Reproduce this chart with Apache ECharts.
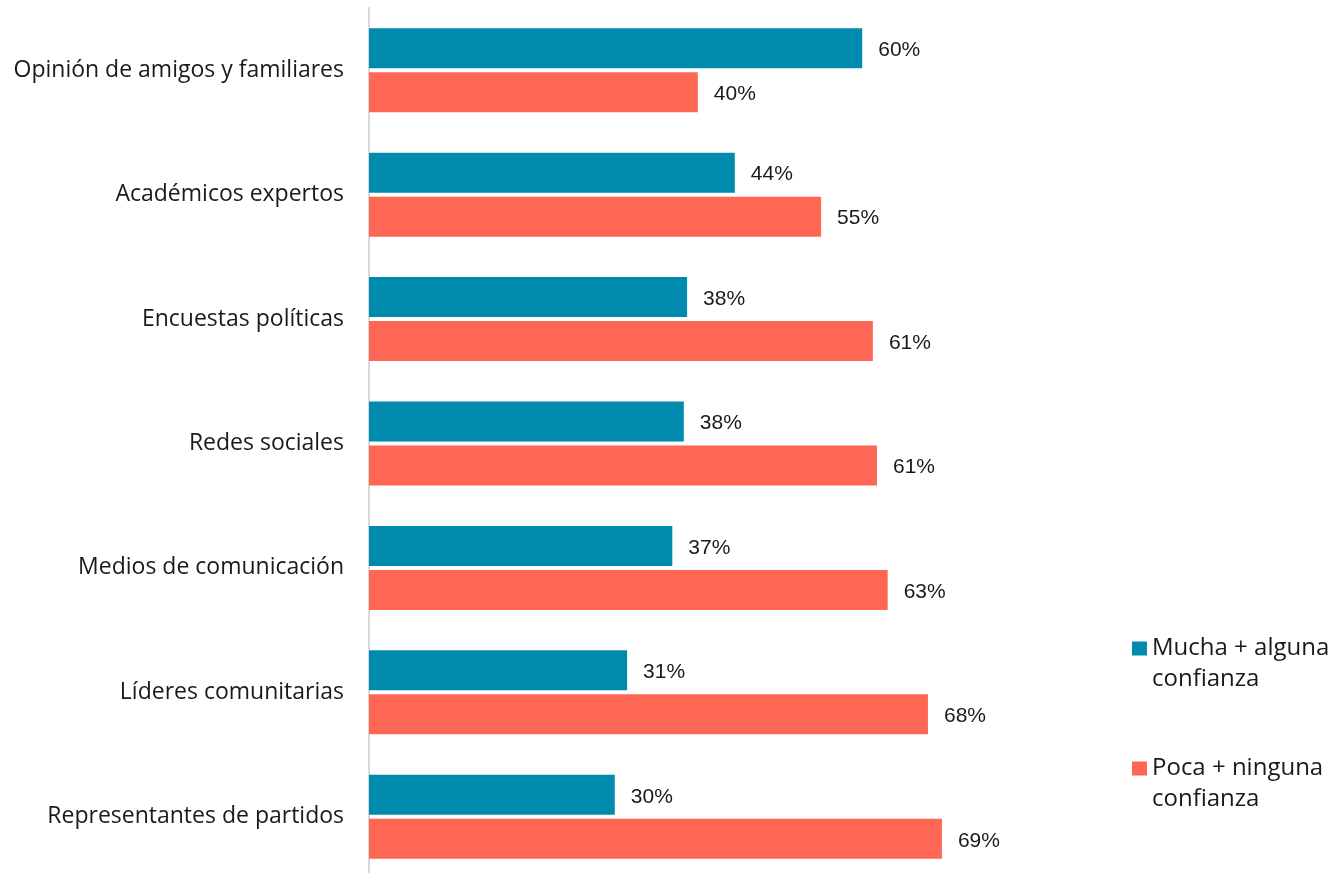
<!DOCTYPE html>
<html><head><meta charset="utf-8">
<script src="https://cdn.jsdelivr.net/npm/echarts@6/dist/echarts.min.js"></script>
<style>html,body{margin:0;padding:0;background:#fff}#c{width:1330px;height:873px}</style>
</head><body><div id="c"></div>
<script>
const categories = ["Opinión de amigos y familiares","Académicos expertos","Encuestas políticas","Redes sociales","Medios de comunicación","Líderes comunitarias","Representantes de partidos"];
const seriesNames = ["Mucha + alguna\nconfianza","Poca + ninguna\nconfianza"];
const muchaValues = [60, 44.5, 38.7, 38.3, 36.9, 31.4, 29.9];
const pocaValues = [40, 55.0, 61.3, 61.8, 63.1, 68.0, 69.7];
const muchaLabels = ["60%","44%","38%","38%","37%","31%","30%"];
const pocaLabels = ["40%","55%","61%","61%","63%","68%","69%"];

const chart = echarts.init(document.getElementById('c'), null, {renderer:'canvas'});
const labelStyle = (labels) => ({
  show: true, position: 'right', distance: 16, offset: [0, 2],
  fontFamily: 'Liberation Sans, Arial, sans-serif', fontSize: 21, color: '#1a1a1a',
  formatter: p => labels[p.dataIndex]
});
chart.setOption({
  animation: false,
  grid: {left: 369, width: 822, top: 8, height: 871, containLabel: false, outerBoundsMode: 'none'},
  xAxis: {type: 'value', min: 0, max: 100, show: false},
  yAxis: {
    type: 'category', data: categories, inverse: true,
    axisLine: {show: true, lineStyle: {color: '#d9d9d9', width: 2}},
    axisTick: {show: false},
    axisLabel: {margin: 25, fontFamily: 'Open Sans, sans-serif', fontSize: 23, color: '#1a1a1a'}
  },
  legend: {
    orient: 'vertical', left: 1127, top: 597, padding: 5,
    itemWidth: 15, itemHeight: 14, itemGap: 27,
    icon: 'rect',
    formatter: name => '\n' + name,
    textStyle: {fontFamily: 'Open Sans, sans-serif', fontSize: 24, color: '#1a1a1a', lineHeight: 31},
    data: seriesNames
  },
  series: [
    {name: seriesNames[0], type: 'bar', data: muchaValues, barWidth: 40, barGap: '10%',
     itemStyle: {color: '#008BAE'}, label: labelStyle(muchaLabels)},
    {name: seriesNames[1], type: 'bar', data: pocaValues, barWidth: 40, barGap: '10%',
     itemStyle: {color: '#FF6755'}, label: labelStyle(pocaLabels)}
  ]
});
</script></body></html>
